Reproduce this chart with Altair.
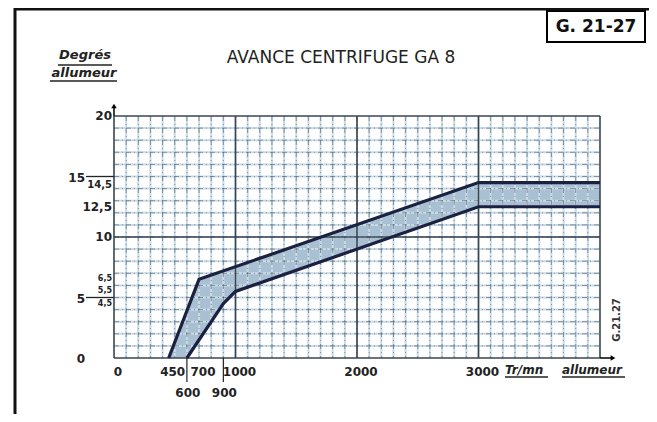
import altair as alt
import pandas as pd
import numpy as np

# ---- data ----
upper_rpm = [450, 700, 3000, 4000]
upper_deg = [0, 6.5, 14.5, 14.5]
lower_rpm = [600, 900, 1000, 3000, 4000]
lower_deg = [0, 4.5, 5.5, 12.5, 12.5]

x_ticks_row1 = [0, 450, 700, 1000, 2000, 3000]
x_ticks_row2 = [600, 900]
y_ticks_main = [20, 12.5, 10]
y_ticks_mid = [14.5]
y_ticks_small = [6.5, 5.5, 4.5]
y_ticks_far = [15, 5, 0]

X_MAX, Y_MAX = 4000, 20
W, H = 486, 242

BAND = "#a9bfd2"
LINE = "#1b2140"
GRID_DARK = "#3a4552"
GRID_LIGHT = "#c8dbe8"
FONT = "DejaVu Sans"

def fr(v):
    s = f"{v:g}"
    return s.replace(".", ",")

xs = alt.Scale(domain=[0, X_MAX], nice=False, zero=False)
ys = alt.Scale(domain=[0, Y_MAX], nice=False, zero=False)

up_df = pd.DataFrame({"x": upper_rpm, "y": upper_deg})
lo_df = pd.DataFrame({"x": lower_rpm, "y": lower_deg})

# band: area under upper curve, then cover area under lower curve
band_up = alt.Chart(up_df).mark_area(color=BAND, opacity=1).encode(
    x=alt.X("x:Q", scale=xs, axis=None), y=alt.Y("y:Q", scale=ys, axis=None))
band_lo = alt.Chart(lo_df).mark_area(color="white", opacity=1).encode(
    x=alt.X("x:Q", scale=xs, axis=None), y=alt.Y("y:Q", scale=ys, axis=None))

# grid (graph paper)
vminor = pd.DataFrame({"x": np.arange(100, X_MAX, 100)})
hminor = pd.DataFrame({"y": np.arange(1, Y_MAX, 1)})
vmajor = pd.DataFrame({"x": [0, 1000, 2000, 3000, X_MAX]})
hmajor = pd.DataFrame({"y": [0, 10, Y_MAX]})

v_light = alt.Chart(vminor).mark_rule(color=GRID_LIGHT, strokeWidth=2).encode(
    x=alt.X("x:Q", scale=xs, axis=None), y=alt.value(0), y2=alt.value(H))
h_light = alt.Chart(hminor).mark_rule(color=GRID_LIGHT, strokeWidth=2).encode(
    y=alt.Y("y:Q", scale=ys, axis=None), x=alt.value(0), x2=alt.value(W))
v_dash = alt.Chart(vminor).mark_rule(color=GRID_DARK, strokeWidth=1, opacity=0.5,
                                     strokeDash=[5, 3, 1, 3]).encode(
    x=alt.X("x:Q", scale=xs, axis=None), y=alt.value(0), y2=alt.value(H))
h_dash = alt.Chart(hminor).mark_rule(color=GRID_DARK, strokeWidth=1, opacity=0.5,
                                     strokeDash=[5, 3, 1, 3]).encode(
    y=alt.Y("y:Q", scale=ys, axis=None), x=alt.value(0), x2=alt.value(W))
v_major = alt.Chart(vmajor).mark_rule(color=GRID_DARK, strokeWidth=1.6).encode(
    x=alt.X("x:Q", scale=xs, axis=None), y=alt.value(0), y2=alt.value(H))
h_major = alt.Chart(hmajor).mark_rule(color=GRID_DARK, strokeWidth=1.6).encode(
    y=alt.Y("y:Q", scale=ys, axis=None), x=alt.value(0), x2=alt.value(W))

# band boundaries
line_up = alt.Chart(up_df).mark_line(color=LINE, strokeWidth=3.2).encode(
    x=alt.X("x:Q", scale=xs, axis=None), y=alt.Y("y:Q", scale=ys, axis=None))
line_lo = alt.Chart(lo_df).mark_line(color=LINE, strokeWidth=3.2).encode(
    x=alt.X("x:Q", scale=xs, axis=None), y=alt.Y("y:Q", scale=ys, axis=None))

# axis arrows
y_arrow = alt.Chart().mark_rule(color="black", strokeWidth=1.5).encode(
    x=alt.value(0), y=alt.value(-10), y2=alt.value(0))
y_head = alt.Chart().mark_point(shape="triangle-up", filled=True, color="black",
                                size=30, opacity=1).encode(x=alt.value(0), y=alt.value(-10))
x_arrow = alt.Chart().mark_rule(color="black", strokeWidth=1.5).encode(
    x=alt.value(W), x2=alt.value(W + 13), y=alt.value(H))
x_head = alt.Chart().mark_point(shape="triangle-right", filled=True, color="black",
                                size=30, opacity=1).encode(x=alt.value(W + 13), y=alt.value(H))

# y tick labels
ym = pd.DataFrame({"y": y_ticks_main, "t": [fr(v) for v in y_ticks_main]})
ymid = pd.DataFrame({"y": y_ticks_mid, "t": [fr(v) for v in y_ticks_mid]})
ysm = pd.DataFrame({"y": y_ticks_small, "t": [fr(v) for v in y_ticks_small]})
yf = pd.DataFrame({"y": y_ticks_far, "t": [fr(v) for v in y_ticks_far]})
y_lab_main = alt.Chart(ym).mark_text(align="right", baseline="middle", dx=-2,
                                     fontSize=12, font=FONT, fontWeight="bold", color="#222").encode(
    x=alt.value(0), y=alt.Y("y:Q", scale=ys, axis=None), text="t:N")
y_lab_mid = alt.Chart(ymid).mark_text(align="right", baseline="middle", dx=-2, dy=2,
                                      fontSize=10, font=FONT, fontWeight="bold", color="#222").encode(
    x=alt.value(0), y=alt.Y("y:Q", scale=ys, axis=None), text="t:N")
y_lab_small = alt.Chart(ysm).mark_text(align="right", baseline="middle", dx=-2,
                                       fontSize=8, font=FONT, fontWeight="bold", color="#222").encode(
    x=alt.value(0), y=alt.Y("y:Q", scale=ys, axis=None), text="t:N")
y_lab_far = alt.Chart(yf).mark_text(align="right", baseline="middle", dx=-29, dy=1,
                                    fontSize=12, font=FONT, fontWeight="bold", color="#222").encode(
    x=alt.value(0), y=alt.Y("y:Q", scale=ys, axis=None), text="t:N")
yfl = pd.DataFrame({"y": y_ticks_far[:2]})
y_far_lines = alt.Chart(yfl).mark_rule(color="#222", strokeWidth=1.3).encode(
    x=alt.value(-28), x2=alt.value(0), y=alt.Y("y:Q", scale=ys, axis=None))

# x tick labels
x1 = pd.DataFrame({"x": x_ticks_row1, "t": [str(v) for v in x_ticks_row1]})
x2 = pd.DataFrame({"x": x_ticks_row2, "t": [str(v) for v in x_ticks_row2]})
x_lab1 = alt.Chart(x1).mark_text(align="center", baseline="middle", dx=4,
                                 fontSize=12, font=FONT, fontWeight="bold", color="#222").encode(
    x=alt.X("x:Q", scale=xs, axis=None), y=alt.value(H + 14), text="t:N")
x_lab2 = alt.Chart(x2).mark_text(align="center", baseline="middle", dx=1,
                                 fontSize=12, font=FONT, fontWeight="bold", color="#222").encode(
    x=alt.X("x:Q", scale=xs, axis=None), y=alt.value(H + 35), text="t:N")
x_tick2 = alt.Chart(x2).mark_rule(color="#222", strokeWidth=1.2).encode(
    x=alt.X("x:Q", scale=xs, axis=None), y=alt.value(H), y2=alt.value(H + 24))

# titles / annotations (pixel positions relative to plot origin)
title = alt.Chart().mark_text(text="AVANCE CENTRIFUGE GA 8", align="center", baseline="middle",
                              fontSize=17, font=FONT, color="#222").encode(
    x=alt.value(227), y=alt.value(-58))
deg1 = alt.Chart().mark_text(text="Degrés", align="center", baseline="middle",
                             fontSize=13, font=FONT, fontWeight="bold", fontStyle="italic",
                             color="#222").encode(x=alt.value(-29), y=alt.value(-61))
deg2 = alt.Chart().mark_text(text="allumeur", align="center", baseline="middle",
                             fontSize=13, font=FONT, fontWeight="bold", fontStyle="italic",
                             color="#222").encode(x=alt.value(-30), y=alt.value(-43))
ul1 = alt.Chart().mark_rule(color="#222", strokeWidth=1.3).encode(
    x=alt.value(-56), x2=alt.value(-2), y=alt.value(-51))
ul2 = alt.Chart().mark_rule(color="#222", strokeWidth=1.3).encode(
    x=alt.value(-64), x2=alt.value(3), y=alt.value(-35))

xt1 = alt.Chart().mark_text(text="Tr/mn", align="left", baseline="middle",
                            fontSize=12, font=FONT, fontStyle="italic", fontWeight="bold",
                            color="#222").encode(x=alt.value(391), y=alt.value(H + 12))
xt2 = alt.Chart().mark_text(text="allumeur", align="left", baseline="middle",
                            fontSize=12, font=FONT, fontStyle="italic", fontWeight="bold",
                            color="#222").encode(x=alt.value(448), y=alt.value(H + 12))
xul1 = alt.Chart().mark_rule(color="#222", strokeWidth=1.3).encode(
    x=alt.value(391), x2=alt.value(434), y=alt.value(H + 19))
xul2 = alt.Chart().mark_rule(color="#222", strokeWidth=1.3).encode(
    x=alt.value(448), x2=alt.value(511), y=alt.value(H + 19))

box = alt.Chart().mark_rect(fill="white", stroke="black", strokeWidth=2).encode(
    x=alt.value(433), x2=alt.value(531), y=alt.value(-105), y2=alt.value(-74))
box_t = alt.Chart().mark_text(text="G. 21-27", align="center", baseline="middle",
                              fontSize=17, font=FONT, fontWeight="bold", color="#111").encode(
    x=alt.value(482), y=alt.value(-89))
side_t = alt.Chart().mark_text(text="G.21.27", align="center", baseline="middle", angle=270,
                               fontSize=10, font=FONT, fontWeight="bold", color="#333").encode(
    x=alt.value(503), y=alt.value(204))

frame_l = alt.Chart().mark_rule(color="#111", strokeWidth=3).encode(
    x=alt.value(-99), y=alt.value(-108), y2=alt.value(306))
frame_t = alt.Chart().mark_rule(color="#111", strokeWidth=3).encode(
    x=alt.value(-100), x2=alt.value(535), y=alt.value(-107))

chart = alt.layer(
    band_up, band_lo,
    v_light, h_light, v_dash, h_dash, v_major, h_major,
    line_up, line_lo,
    y_arrow, y_head, x_arrow, x_head,
    y_far_lines, y_lab_main, y_lab_mid, y_lab_small, y_lab_far,
    x_tick2, x_lab1, x_lab2,
    title, deg1, deg2, ul1, ul2, xt1, xt2, xul1, xul2,
    box, box_t, side_t, frame_l, frame_t,
).properties(
    width=W, height=H,
    autosize=alt.AutoSizeParams(type="none"),
    padding={"left": 106, "top": 108, "right": 49, "bottom": 56},
).configure_view(stroke=None)

chart.save("out.html", embed_options={"renderer": "svg", "actions": False})
